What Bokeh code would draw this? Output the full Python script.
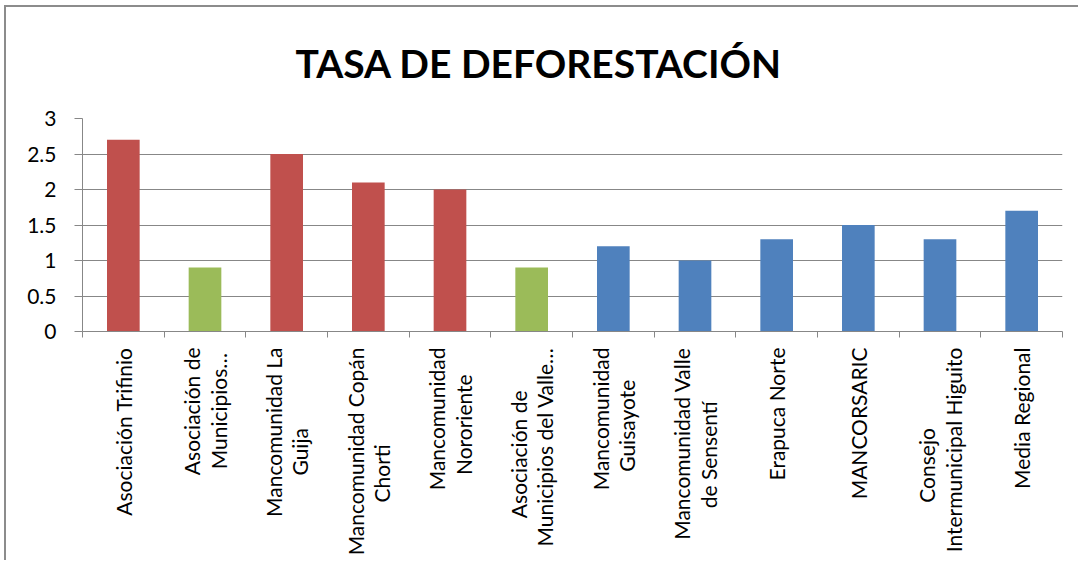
import math
from bokeh.plotting import figure
from bokeh.models import Range1d, LinearAxis, FixedTicker, Title, ColumnDataSource
from bokeh.embed import file_html
from bokeh.resources import INLINE

categories = [
    "Asociación Trifinio",
    "Asociación de\nMunicipios…",
    "Mancomunidad La\nGuija",
    "Mancomunidad Copán\nChorti",
    "Mancomunidad\nNororiente",
    "Asociación de\nMunicipios del Valle…",
    "Mancomunidad\nGuisayote",
    "Mancomunidad Valle\nde Sensentí",
    "Erapuca Norte",
    "MANCORSARIC",
    "Consejo\nIntermunicipal Higuito",
    "Media Regional",
]
values = [2.7, 0.9, 2.5, 2.1, 2.0, 0.9, 1.2, 1.0, 1.3, 1.5, 1.3, 1.7]
bar_colors = ["#C0504D", "#9BBB59", "#C0504D", "#C0504D", "#C0504D", "#9BBB59",
              "#4F81BD", "#4F81BD", "#4F81BD", "#4F81BD", "#4F81BD", "#4F81BD"]
y_ticks = [0, 0.5, 1, 1.5, 2, 2.5, 3]

GRID = "#878787"
FONT = "Lato"
n = len(categories)
centers = [i + 0.5 for i in range(n)]


def est_width(s):
    # rough advance-width estimate (em) used only to centre the lines of a label
    w = 0.0
    for ch in s:
        if ch in "ijlI.,'í":
            w += 0.24
        elif ch in "ftr":
            w += 0.32
        elif ch in " ":
            w += 0.19
        elif ch in "mwMW":
            w += 0.80
        elif ch == "…":
            w += 0.75
        elif ch.isupper():
            w += 0.64
        else:
            w += 0.51
    return w


def centred(label):
    lines = label.split("\n")
    if len(lines) == 1:
        return label
    longest = max(est_width(l) for l in lines)
    out = []
    for l in lines:
        pad = int(round((longest - est_width(l)) / 2 / 0.19))
        out.append(l + "\u00a0" * pad)
    return "\n".join(out)


p = figure(width=1074, height=555, output_backend="svg", toolbar_location=None,
           x_range=Range1d(0, n), y_range=Range1d(0, 3),
           x_axis_location=None, y_axis_location=None,
           min_border_left=76, min_border_right=18, min_border_top=111, min_border_bottom=231)
p.outline_line_color = None
p.styles = {"border-left": "2px solid #8c8c8c", "border-top": "2px solid #8c8c8c",
            "border-right": "none", "border-bottom": "none",
            "margin-left": "4px", "margin-top": "5px"}

src = ColumnDataSource(dict(x=centers, top=values, color=bar_colors))
p.vbar(x="x", top="top", width=0.4, color="color", source=src, line_color=None)

# y axis
yax = LinearAxis(ticker=FixedTicker(ticks=y_ticks), minor_tick_line_color=None)
yax.major_label_overrides = {0: "0", 0.5: "0.5", 1: "1", 1.5: "1.5", 2: "2", 2.5: "2.5", 3: "3"}
yax.axis_line_color = GRID
yax.major_tick_line_color = GRID
yax.major_tick_in = 0
yax.major_tick_out = 8
yax.major_label_standoff = 18
yax.major_label_text_font = FONT
yax.major_label_text_font_size = "21px"
yax.major_label_text_color = "black"
p.add_layout(yax, "left")

p.ygrid.ticker = FixedTicker(ticks=y_ticks)
p.ygrid.grid_line_color = GRID
p.ygrid.grid_line_width = 1
p.xgrid.grid_line_color = None

# tick axis between categories
tax = LinearAxis(ticker=FixedTicker(ticks=list(range(n + 1))), minor_tick_line_color=None)
tax.axis_line_color = GRID
tax.major_tick_line_color = GRID
tax.major_tick_in = 0
tax.major_tick_out = 6
tax.major_label_text_font_size = "0px"
tax.major_label_standoff = 0
tax.major_label_text_color = None
p.add_layout(tax, "below")

# category labels
cax = LinearAxis(ticker=FixedTicker(ticks=centers), minor_tick_line_color=None)
cax.major_label_overrides = {c: centred(lab) for c, lab in zip(centers, categories)}
cax.axis_line_color = None
cax.major_tick_line_color = None
cax.major_label_orientation = math.pi / 2
cax.major_label_standoff = 4
cax.major_label_text_font = FONT
cax.major_label_text_font_size = "21px"
cax.major_label_text_color = "black"
cax.major_label_text_line_height = 1.05
p.add_layout(cax, "below")

p.title = Title(text="TASA DE DEFORESTACIÓN", align="left", offset=213,
                vertical_align="top",
                text_font=FONT, text_font_size="39px", text_font_style="bold",
                text_color="black", standoff=61)

open("out.html", "w").write(file_html(p, INLINE))
